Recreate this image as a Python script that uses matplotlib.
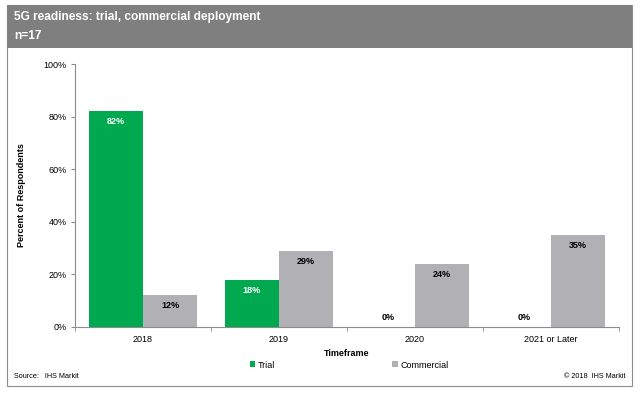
import matplotlib
matplotlib.use("Agg")
import matplotlib.pyplot as plt
import numpy as np
from matplotlib.patches import Rectangle

plt.rcParams['font.family'] = ['Liberation Sans', 'DejaVu Sans']

categories = ["2018", "2019", "2020", "2021 or Later"]
trial = [82, 18, 0, 0]
commercial = [12, 29, 24, 35]
series_names = ["Trial", "Commercial"]
yticks = [0, 20, 40, 60, 80, 100]

W, H = 640, 394
fig = plt.figure(figsize=(6.4, 3.94), dpi=100)

def fx(px): return px / W
def fy(py): return 1 - py / H

# outer frame
fig.patches.append(Rectangle((fx(7), fy(386)), fx(632) - fx(7), fy(5) - fy(386),
                             transform=fig.transFigure, fill=False,
                             edgecolor="#8c8c8c", linewidth=0.8))
# header band
fig.patches.append(Rectangle((fx(7), fy(48)), fx(632) - fx(7), fy(5) - fy(48),
                             transform=fig.transFigure, facecolor="#7f7f7f",
                             edgecolor="none"))
fig.text(fx(14), fy(17), "5G readiness: trial, commercial deployment", color="white",
         fontsize=8.6, fontweight="bold", va="center", ha="left")
fig.text(fx(14), fy(36), "n=17", color="white", fontsize=8.6, fontweight="bold",
         va="center", ha="left")

ax = fig.add_axes([fx(75), fy(327), fx(619) - fx(75), fy(64) - fy(327)])
x = np.arange(len(categories))
w = 0.4
green = "#00a94f"
gray = "#b1b1b5"
b1 = ax.bar(x - w / 2, trial, w, color=green, label=series_names[0])
b2 = ax.bar(x + w / 2, commercial, w, color=gray, label=series_names[1])

ax.set_xlim(-0.5, len(categories) - 0.5)
ax.set_ylim(0, 100)
ax.set_yticks(yticks)
ax.set_yticklabels([f"{t}%" for t in yticks], fontsize=6.5)
ax.set_xticks(x)
ax.set_xticklabels(categories, fontsize=6.5)
ax.tick_params(axis="x", length=0, pad=6)
ax.set_xticks(np.arange(-0.5, len(categories)), minor=True)
ax.tick_params(axis="x", which="minor", length=3, color="#8c8c8c", direction="out")
ax.tick_params(axis="y", length=3, color="#8c8c8c", pad=3)
for s in ["top", "right"]:
    ax.spines[s].set_visible(False)
for s in ["left", "bottom"]:
    ax.spines[s].set_color("#8c8c8c")
    ax.spines[s].set_linewidth(0.8)

def label(bars, vals, color):
    for b, v in zip(bars, vals):
        cx = b.get_x() + b.get_width() / 2
        if v >= 5:
            ax.annotate(f"{v}%", (cx, v), xytext=(0, -7.5), textcoords="offset points",
                        ha="center", va="center", fontsize=6.5, fontweight="bold",
                        color=color)
        else:
            ax.annotate(f"{v}%", (cx, v), xytext=(0, 7), textcoords="offset points",
                        ha="center", va="center", fontsize=6.5, fontweight="bold",
                        color="black")

label(b1, trial, "white")
label(b2, commercial, "black")

ax.set_xlabel("Timeframe", fontsize=6.5, fontweight="bold", labelpad=3)
fig.text(fx(22), fy(195), "Percent of Respondents", rotation=90, fontsize=6.5,
         fontweight="bold", ha="center", va="center")

fig.legend(handles=[b1, b2], loc="center", bbox_to_anchor=(fx(349), fy(365)), ncol=2,
           frameon=False, fontsize=6.5, handlelength=0.6, handleheight=0.6,
           handletextpad=0.3, columnspacing=13)

fig.text(fx(14), fy(377), "Source:   IHS Markit", fontsize=5.2, ha="left", va="center")
fig.text(fx(626), fy(377), "© 2018  IHS Markit", fontsize=5.2, ha="right", va="center")

fig.savefig("out.png", dpi=100)
